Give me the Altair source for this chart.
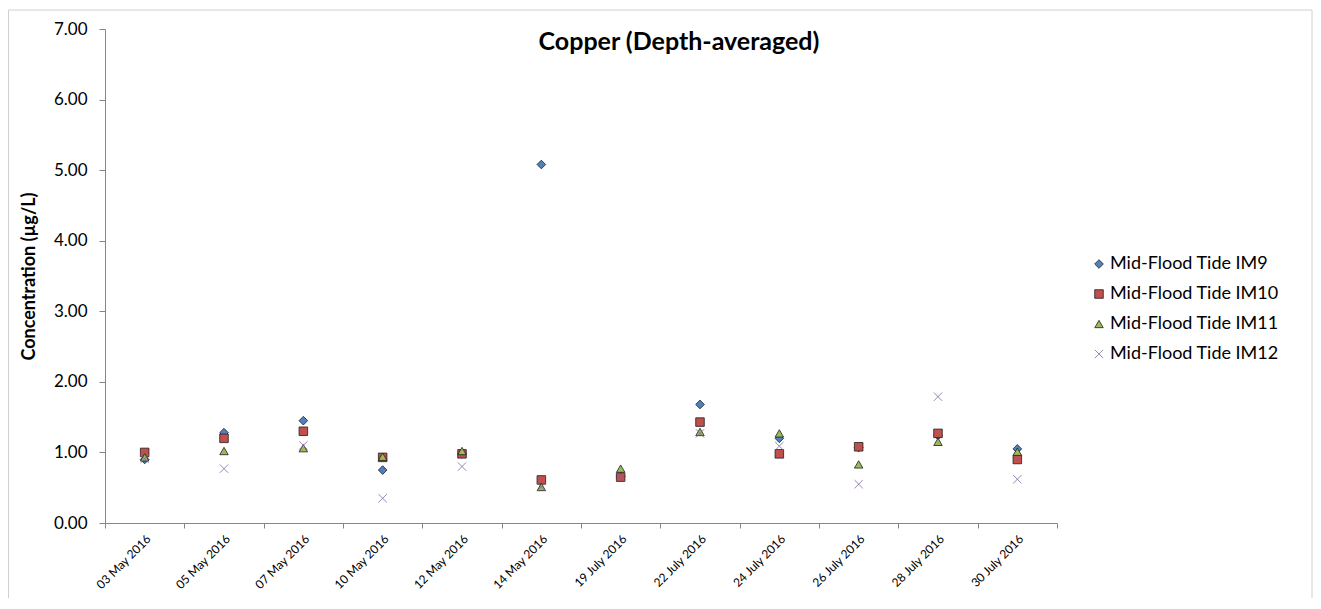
import altair as alt
import pandas as pd

dates = ["03 May 2016", "05 May 2016", "07 May 2016", "10 May 2016", "12 May 2016",
         "14 May 2016", "19 July 2016", "22 July 2016", "24 July 2016", "26 July 2016",
         "28 July 2016", "30 July 2016"]
series_names = ["Mid-Flood Tide IM9", "Mid-Flood Tide IM10", "Mid-Flood Tide IM11", "Mid-Flood Tide IM12"]
im9 = [0.90, 1.28, 1.45, 0.75, 0.98, 5.08, 0.66, 1.68, 1.20, 1.07, 1.24, 1.05]
im10 = [1.00, 1.20, 1.30, 0.93, 0.98, 0.61, 0.65, 1.43, 0.98, 1.08, 1.27, 0.90]
im11 = [0.93, 1.02, 1.06, 0.94, 1.02, 0.51, 0.77, 1.29, 1.27, 0.83, 1.15, 1.01]
im12 = [0.91, 0.77, 1.10, 0.35, 0.80, 0.51, 0.65, 1.27, 1.09, 0.55, 1.79, 0.62]
y_ticks = [0, 1, 2, 3, 4, 5, 6, 7]

fills = ["#4F81BD", "#C0504D", "#9BBB59", "#8064A2"]
strokes = ["#1e1e1e", "#1e1e1e", "#1e1e1e", "#8064A2"]
shapes = ["diamond", "square", "triangle-up", "M-1,-1L1,1M-1,1L1,-1"]
stroke_widths = [0.8, 0.8, 0.8, 1.3]
sizes = [75, 70, 75, 110]

rows = []
for name, vals in zip(series_names, [im9, im10, im11, im12]):
    for d, v in zip(dates, vals):
        rows.append({"date": d, "series": name, "value": v})
df = pd.DataFrame(rows)

FONT = "Lato"
AX = "#868686"

points = alt.Chart(df).mark_point(filled=True, opacity=1).encode(
    x=alt.X("date:N", sort=dates, bandPosition=0.5,
            scale=alt.Scale(type="band", paddingInner=0, paddingOuter=0),
            axis=alt.Axis(title=None, tickBand="extent", labelAngle=315, labelFontSize=12,
                          labelFont=FONT, labelColor="#000", tickSize=5, tickColor=AX,
                          domainColor=AX, labelPadding=5, grid=False)),
    y=alt.Y("value:Q", scale=alt.Scale(domain=[0, 7], nice=False),
            axis=alt.Axis(title="Concentration (µg/L)", values=y_ticks, format=".2f",
                          labelFontSize=17, labelFont=FONT, labelColor="#000",
                          tickSize=6, tickColor=AX, domainColor=AX, labelPadding=12,
                          titleFont=FONT, titleFontSize=18, titleFontWeight="bold",
                          titleColor="#000", titleX=-67, grid=False)),
    fill=alt.Fill("series:N", sort=series_names, title=None,
                  scale=alt.Scale(domain=series_names, range=fills)),
    stroke=alt.Stroke("series:N", sort=series_names, title=None,
                      scale=alt.Scale(domain=series_names, range=strokes)),
    shape=alt.Shape("series:N", sort=series_names, title=None,
                    scale=alt.Scale(domain=series_names, range=shapes)),
    strokeWidth=alt.StrokeWidth("series:N", sort=series_names, title=None,
                                scale=alt.Scale(domain=series_names, range=stroke_widths)),
    size=alt.Size("series:N", sort=series_names, title=None,
                  scale=alt.Scale(domain=series_names, range=sizes)),
)

frame = alt.Chart(pd.DataFrame({"k": [0]})).mark_rect(
    filled=False, stroke="#d0d0d0", strokeWidth=1
).encode(
    x=alt.value(-96.5), x2=alt.value(1207), y=alt.value(-19), y2=alt.value(700)
)

chart = alt.layer(frame, points).properties(
    width=952, height=494,
    title=alt.TitleParams("Copper (Depth-averaged)", font=FONT, fontSize=25,
                          fontWeight="bold", color="#000", anchor="middle",
                          frame="group", dx=98, dy=45, offset=0),
    autosize=alt.AutoSizeParams(type="none"),
    padding={"left": 97, "top": 21, "right": 256, "bottom": 75},
).configure_view(stroke=None).configure_legend(
    orient="none", legendX=985, legendY=226, labelFont=FONT, labelFontSize=18,
    labelColor="#000", rowPadding=12, symbolStrokeWidth=0.8, labelLimit=400,
    labelOffset=2
)

chart.save("out.html", embed_options={"renderer": "svg", "actions": False})
